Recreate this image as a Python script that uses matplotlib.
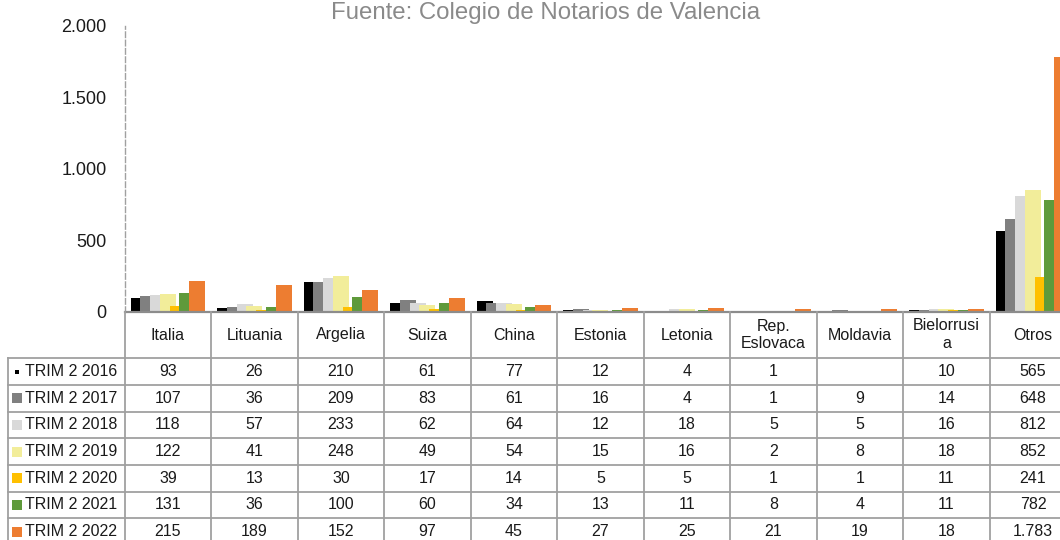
import matplotlib
matplotlib.use("Agg")
import matplotlib.pyplot as plt
import numpy as np

categories = ["Italia", "Lituania", "Argelia", "Suiza", "China", "Estonia", "Letonia",
              "Rep.\nEslovaca", "Moldavia", "Bielorrusi\na", "Otros"]
series_names = ["TRIM 2 2016", "TRIM 2 2017", "TRIM 2 2018", "TRIM 2 2019",
                "TRIM 2 2020", "TRIM 2 2021", "TRIM 2 2022"]
v2016 = [93, 26, 210, 61, 77, 12, 4, 1, None, 10, 565]
v2017 = [107, 36, 209, 83, 61, 16, 4, 1, 9, 14, 648]
v2018 = [118, 57, 233, 62, 64, 12, 18, 5, 5, 16, 812]
v2019 = [122, 41, 248, 49, 54, 15, 16, 2, 8, 18, 852]
v2020 = [39, 13, 30, 17, 14, 5, 5, 1, 1, 11, 241]
v2021 = [131, 36, 100, 60, 34, 13, 11, 8, 4, 11, 782]
v2022 = [215, 189, 152, 97, 45, 27, 25, 21, 19, 18, 1783]
series_values = [v2016, v2017, v2018, v2019, v2020, v2021, v2022]
yticks = [0, 500, 1000, 1500, 2000]
title = "Fuente: Colegio de Notarios de Valencia"

colors = ["#000000", "#808080", "#d9d9d9", "#f2ed9a", "#ffc000", "#5f9a3b", "#ed7d31"]

plt.rcParams["font.family"] = ["Liberation Sans", "DejaVu Sans"]

W, H = 1060, 540
fig = plt.figure(figsize=(W / 100, H / 100), dpi=100)

# pixel layout
ax_left, col_w = 124.7, 86.5
y0_px, y2000_px = 311.7, 25.7
ncat = len(categories)

ax = fig.add_axes([ax_left / W, (H - y0_px) / H, ncat * col_w / W, (y0_px - y2000_px) / H])
ax.set_xlim(-0.5, ncat - 0.5)
ax.set_ylim(0, 2000)

x = np.arange(ncat)
step, bw = 0.113, 0.186
for i, (vals, c) in enumerate(zip(series_values, colors)):
    h = [v if v is not None else 0 for v in vals]
    ax.bar(x + (i - 3) * step, h, width=bw, color=c, zorder=2 + i, linewidth=0)

ax.set_yticks(yticks)
ax.set_yticklabels([f"{t:,}".replace(",", ".") for t in yticks], fontsize=13, color="#1a1a1a")
ax.tick_params(axis="y", length=0, pad=13)
ax.set_xticks([])
for s in ["top", "right"]:
    ax.spines[s].set_visible(False)
ax.spines["left"].set_color("#a0a0a0")
ax.spines["left"].set_linewidth(1.0)
ax.spines["left"].set_linestyle((0, (4, 2)))
ax.spines["bottom"].set_color("#8c8c8c")
ax.spines["bottom"].set_linewidth(1.6)
ax.spines["bottom"].set_zorder(20)

# table
tab_left_px = 8
hdr_h, row_h = 46.6, 26.67
nrows = len(series_names)
tab_bottom_px = y0_px + hdr_h + nrows * row_h
xl = -0.5 - (ax_left - tab_left_px) / col_w
tx = fig.add_axes([tab_left_px / W, (H - tab_bottom_px) / H,
                   (ax_left + ncat * col_w - tab_left_px) / W, (tab_bottom_px - y0_px) / H])
tx.set_xlim(xl, ncat - 0.5)
tx.set_ylim(tab_bottom_px - y0_px, 0)
tx.axis("off")

lc, lw = "#a0a0a0", 1.3
tb = hdr_h + nrows * row_h
for k in range(nrows + 1):
    yy = hdr_h + k * row_h
    tx.plot([xl, ncat - 0.5], [yy, yy], color=lc, lw=lw, clip_on=False)
for j in range(ncat + 1):
    xx = -0.5 + j
    tx.plot([xx, xx], [0, tb], color=lc, lw=lw, clip_on=False)
tx.plot([xl, xl], [hdr_h, tb], color=lc, lw=lw, clip_on=False)

fs = 11.5
for j, cat in enumerate(categories):
    tx.text(j, hdr_h / 2, cat, ha="center", va="center", fontsize=fs,
            color="#1a1a1a", linespacing=1.25, clip_on=False)

for k, (name, vals, c) in enumerate(zip(series_names, series_values, colors)):
    yc = hdr_h + (k + 0.5) * row_h
    ms = 3 if k == 0 else 6.5
    tx.plot([xl + 9 / col_w], [yc], marker="s", ms=ms, color=c, mew=0, clip_on=False)
    tx.text(xl + 17 / col_w, yc, name, ha="left", va="center", fontsize=fs,
            color="#1a1a1a", clip_on=False)
    for j, v in enumerate(vals):
        if v is None:
            continue
        tx.text(j, yc, f"{v:,}".replace(",", "."), ha="center", va="center",
                fontsize=fs, color="#1a1a1a", clip_on=False)

fig.text(546 / W, 1 - 19 / H, title, ha="center", va="baseline", fontsize=17.3, color="#8a8a8a")

fig.savefig("out.png", dpi=100)
